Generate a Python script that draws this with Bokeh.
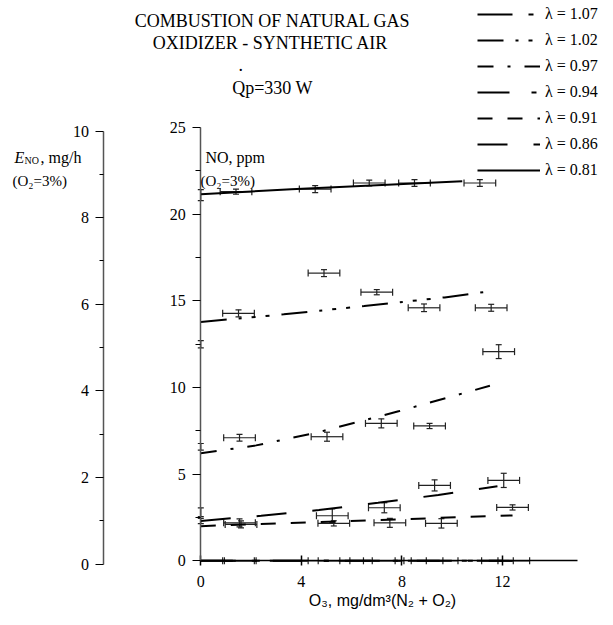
from bokeh.plotting import figure
from bokeh.models import (Range1d, LinearAxis, Whisker, ColumnDataSource, Label,
                          Legend, LegendItem, FixedTicker, TeeHead)
from bokeh.embed import file_html
from bokeh.resources import INLINE

SERIF = "Liberation Serif"
SANS = "Liberation Sans"

# ---------------- data ----------------
lambda_labels = ["λ = 1.07", "λ = 1.02", "λ = 0.97", "λ = 0.94", "λ = 0.91", "λ = 0.86", "λ = 0.81"]

# measured points: O3 [mg/dm3], NO [ppm], x error, y error
o3_107 = [1.57, 5.3, 7.45, 9.6, 12.45]
no_107 = [0.0, 0.0, 0.0, 0.0, 0.0]
xe_107 = [0.63, 0.63, 0.63, 0.63, 0.63]
ye_107 = [0.0, 0.0, 0.0, 0.0, 0.0]

o3_102 = [0.0, 1.5, 4.9, 7.0, 8.88, 11.55]
no_102 = [12.5, 14.28, 16.6, 15.5, 14.6, 14.6]
xe_102 = [0.0, 0.63, 0.63, 0.63, 0.63, 0.63]
ye_102 = [0.21, 0.2, 0.2, 0.15, 0.22, 0.2]

o3_097 = [0.0, 1.54, 5.02, 7.18, 9.1, 11.85]
no_097 = [6.58, 7.1, 7.16, 7.93, 7.78, 12.07]
xe_097 = [0.0, 0.63, 0.63, 0.63, 0.63, 0.63]
ye_097 = [0.19, 0.19, 0.26, 0.26, 0.15, 0.4]

o3_094 = [1.5, 4.9, 7.1, 9.0, 11.8]
no_094 = [0.0, 0.0, 0.0, 0.0, 0.0]
xe_094 = [0.63, 0.63, 0.63, 0.63, 0.63]
ye_094 = [0.0, 0.0, 0.0, 0.0, 0.0]

o3_091 = [0.0, 1.6, 5.29, 7.52, 9.57, 12.4]
no_091 = [2.3, 2.1, 2.16, 2.19, 2.16, 3.08]
xe_091 = [0.0, 0.63, 0.63, 0.63, 0.63, 0.63]
ye_091 = [0.15, 0.2, 0.15, 0.26, 0.27, 0.15]

o3_086 = [0.0, 1.54, 5.23, 7.3, 9.3, 12.05]
no_086 = [2.8, 2.19, 2.6, 3.06, 4.35, 4.64]
xe_086 = [0.0, 0.63, 0.63, 0.63, 0.63, 0.63]
ye_086 = [0.25, 0.23, 0.4, 0.29, 0.32, 0.41]

o3_081 = [0.0, 1.4, 4.55, 6.7, 8.5, 11.1]
no_081 = [21.1, 21.3, 21.45, 21.8, 21.8, 21.8]
xe_081 = [0.0, 0.63, 0.63, 0.63, 0.63, 0.63]
ye_081 = [0.32, 0.15, 0.2, 0.17, 0.2, 0.2]

# approximating curves
fit_x_107 = [0.0, 12.4]
fit_y_107 = [0.0, 0.0]
fit_x_102 = [0.0, 3.3, 6.5, 9.7, 11.5]
fit_y_102 = [13.78, 14.22, 14.7, 15.2, 15.55]
fit_x_097 = [0.0, 2.2, 4.6, 7.9, 11.5]
fit_y_097 = [6.2, 6.66, 7.39, 8.64, 10.1]
fit_x_094 = [0.0, 12.0]
fit_y_094 = [0.0, 0.0]
fit_x_091 = [0.0, 12.4]
fit_y_091 = [2.0, 2.62]
fit_x_086 = [0.0, 2.4, 4.7, 7.05, 9.45, 11.8]
fit_y_086 = [2.3, 2.6, 2.93, 3.35, 3.8, 4.3]
fit_x_081 = [0.0, 3.6, 10.4]
fit_y_081 = [21.15, 21.44, 21.9]

dashes = ["35 16 5 16", "26 12 3 10 4 10 4 12", "16 14 3 14", "32 22 5 10",
          "15 15", "30 26", "solid"]

x_ticks = [0, 4, 8, 12]
no_ticks = [0, 5, 10, 15, 20, 25]
no_minor = [2.5, 7.5, 12.5, 17.5, 22.5]
eno_ticks = [0, 2, 4, 6, 8, 10]
eno_minor = [1, 3, 5, 7, 9]

series = [
    (o3_107, no_107, xe_107, ye_107, fit_x_107, fit_y_107),
    (o3_102, no_102, xe_102, ye_102, fit_x_102, fit_y_102),
    (o3_097, no_097, xe_097, ye_097, fit_x_097, fit_y_097),
    (o3_094, no_094, xe_094, ye_094, fit_x_094, fit_y_094),
    (o3_091, no_091, xe_091, ye_091, fit_x_091, fit_y_091),
    (o3_086, no_086, xe_086, ye_086, fit_x_086, fit_y_086),
    (o3_081, no_081, xe_081, ye_081, fit_x_081, fit_y_081),
]

# ---------------- figure ----------------
# The frame fills the whole canvas; axes are pinned with fixed_location.
W, H = 600, 609
X0PX, XS = 208.3, 25.14      # page px of O3 = 0, px per unit
Y0PX, YS = 568.3, 17.33      # page px of NO = 0, px per unit
E0PX, ES = 571.7, 43.32      # page px of E_NO = 0, px per unit
LEFT, TOP = 8, 8
RIGHT, BOTTOM = LEFT + W, TOP + H

p = figure(width=W, height=H, output_backend="svg", toolbar_location=None,
           title=None, min_border=0,
           x_range=Range1d((LEFT - X0PX) / XS, (RIGHT - X0PX) / XS),
           y_range=Range1d((Y0PX - BOTTOM) / YS, (Y0PX - TOP) / YS),
           x_axis_type=None, y_axis_type=None)
p.background_fill_color = "white"
p.border_fill_color = "white"
p.outline_line_color = None
p.extra_y_ranges = {"eno": Range1d((E0PX - BOTTOM) / ES, (E0PX - TOP) / ES)}

AX = "#555555"

def style_axis(a, size="16px"):
    a.major_label_text_font = SERIF
    a.major_label_text_font_size = size
    a.major_label_text_color = "black"
    a.major_tick_line_color = "black"
    a.minor_tick_line_color = "black"

# main NO axis at O3 = 0
ya = LinearAxis(fixed_location=0)
ya.ticker = FixedTicker(ticks=no_ticks, minor_ticks=no_minor)
ya.bounds = (0, 25)
ya.major_tick_out = 8
ya.major_tick_in = 0
ya.minor_tick_out = 5
ya.minor_tick_in = 0
ya.major_label_standoff = 7
ya.axis_line_color = AX
ya.axis_line_width = 1.5
style_axis(ya)
p.add_layout(ya, "left")

# E_NO axis further left
ea = LinearAxis(y_range_name="eno", fixed_location=(110.5 - X0PX) / XS)
ea.ticker = FixedTicker(ticks=eno_ticks, minor_ticks=eno_minor)
ea.bounds = (0, 10)
ea.major_tick_out = 8
ea.major_tick_in = 0
ea.minor_tick_out = 4
ea.minor_tick_in = 0
ea.major_label_standoff = 6
ea.axis_line_color = AX
ea.axis_line_width = 1.5
style_axis(ea)
p.add_layout(ea, "left")

# O3 axis at NO = 0
xa = LinearAxis(fixed_location=0)
xa.ticker = FixedTicker(ticks=x_ticks, minor_ticks=[])
xa.bounds = (0, 15)
xa.major_tick_out = 5
xa.major_tick_in = 5
xa.major_label_standoff = 10
xa.axis_line_color = "black"
xa.axis_line_width = 1.5
xa.major_tick_line_width = 1.5
style_axis(xa)
p.add_layout(xa, "below")

# ---------------- error bars ----------------
hb, hl, hu, vb, vl, vu = [], [], [], [], [], []
for xs, ys, xe, ye, _, _ in series:
    for x, y, ex, ey in zip(xs, ys, xe, ye):
        if ex > 0:
            hb.append(y); hl.append(x - ex); hu.append(x + ex)
        if ey > 0:
            vb.append(x); vl.append(y - ey); vu.append(y + ey)

hsrc = ColumnDataSource(dict(base=hb, lower=hl, upper=hu))
vsrc = ColumnDataSource(dict(base=vb, lower=vl, upper=vu))
EB = "#222222"
wh = Whisker(source=hsrc, base="base", lower="lower", upper="upper", dimension="width",
             line_color=EB, line_width=1.2,
             lower_head=TeeHead(size=7, line_color=EB, line_width=1.2),
             upper_head=TeeHead(size=7, line_color=EB, line_width=1.2))
wv = Whisker(source=vsrc, base="base", lower="lower", upper="upper", dimension="height",
             line_color=EB, line_width=1.2,
             lower_head=TeeHead(size=6, line_color=EB, line_width=1.2),
             upper_head=TeeHead(size=6, line_color=EB, line_width=1.2))
p.add_layout(wh)
p.add_layout(wv)

# ---------------- curves + legend ----------------
items = []
for (xs, ys, xe, ye, fx, fy), lab, dash in zip(series, lambda_labels, dashes):
    r = p.line(fx, fy, line_color="black", line_width=2, line_dash=dash)
    items.append(LegendItem(label=lab, renderers=[r]))

leg = Legend(items=items, location=(485 - LEFT, BOTTOM - 188), orientation="vertical",
             border_line_color=None, background_fill_alpha=0,
             label_text_font=SERIF, label_text_font_size="16px",
             label_text_color="black", glyph_width=63, glyph_height=20,
             label_height=20, spacing=6, padding=0, margin=0, label_standoff=5)
p.add_layout(leg, "center")

# ---------------- texts ----------------
def lab(text, px, py, size="16px", font=SERIF, align="left", style="normal"):
    p.add_layout(Label(x=px - LEFT, y=BOTTOM - py, x_units="screen", y_units="screen",
                       text=text, text_font=font, text_font_size=size,
                       text_align=align, text_baseline="alphabetic",
                       text_color="black", text_font_style=style))

lab("COMBUSTION OF NATURAL GAS", 280, 28, size="18px", align="center")
lab("OXIDIZER - SYNTHETIC AIR", 278, 50, size="18px", align="center")
lab(".", 246, 72, size="18px")
lab("Qp=330 W", 280, 95, size="18px", align="center")

lab("E", 22, 165, style="italic")
lab("NO", 32, 168, size="10px")
lab(", mg/h", 48, 165)
lab("(O₂=3%)", 20, 188, size="15px")

lab("NO, ppm", 213, 165)
lab("(O₂=3%)", 208, 188, size="15px")

lab("O₃, mg/dm³(N₂ + O₂)", 390, 608, size="16px", font=SANS, align="center")

open("out.html", "w").write(file_html(p, INLINE))
